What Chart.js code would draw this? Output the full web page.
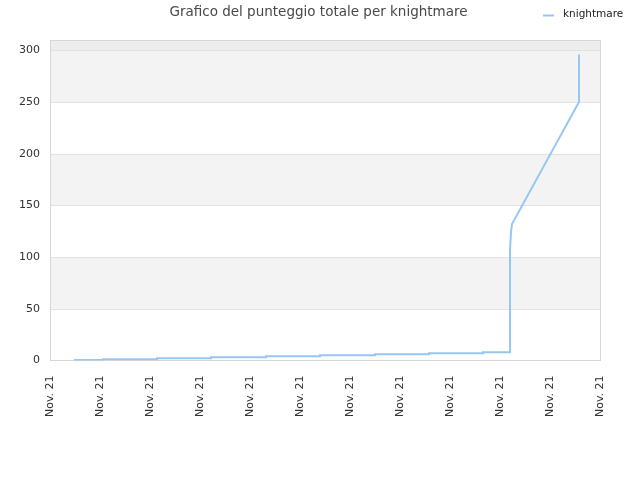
<!DOCTYPE html>
<html>
<head>
<meta charset="utf-8">
<script src="https://cdn.jsdelivr.net/npm/chart.js@4/dist/chart.umd.min.js"></script>
<style>
  html, body { margin: 0; padding: 0; background: #fff; }
  #wrap { width: 640px; height: 480px; }
</style>
</head>
<body>
<div id="wrap"><canvas id="myChart" width="640" height="480"></canvas></div>
<script>
// x positions are in "tick units": 0 = first Nov. 21 tick, 11 = last one
var xTickLabels = ['Nov. 21', 'Nov. 21', 'Nov. 21', 'Nov. 21', 'Nov. 21', 'Nov. 21',
                   'Nov. 21', 'Nov. 21', 'Nov. 21', 'Nov. 21', 'Nov. 21', 'Nov. 21'];
var yTickValues = [0, 50, 100, 150, 200, 250, 300];
var scoreX = [0.48, 1.06, 1.06, 2.14, 2.14, 3.22, 3.22, 4.32, 4.32, 5.40, 5.40, 6.50,
              6.50, 7.58, 7.58, 8.66, 8.66, 9.20, 9.20, 9.22, 9.24, 10.58, 10.58];
var scoreY = [0.5, 0.5, 1, 1, 2, 2, 3, 3, 4, 4, 5, 5,
              6, 6, 7, 7, 8, 8, 107, 124, 132, 250, 296];
var seriesName = 'knightmare';
var chartTitle = 'Grafico del punteggio totale per knightmare';

var lineColor = '#98c6f3';
var fontFamily = 'DejaVu Sans, sans-serif';

drawGraph();

function drawGraph() {
  var points = scoreX.map(function (x, i) { return { x: x, y: scoreY[i] }; });

  // alternating bands behind the plot + outer border
  var bandsPlugin = {
    id: 'bands',
    beforeDatasetsDraw: function (chart) {
      var ctx = chart.ctx, area = chart.chartArea, y = chart.scales.y;
      ctx.save();
      for (var i = 0; i < yTickValues.length; i++) {
        var lo = yTickValues[i];
        var hi = i + 1 < yTickValues.length ? yTickValues[i + 1] : y.max;
        var top = y.getPixelForValue(hi), bottom = y.getPixelForValue(lo);
        if (i === yTickValues.length - 1) ctx.fillStyle = '#ededed';
        else if (i % 2 === 1) ctx.fillStyle = '#f3f3f3';
        else continue;
        ctx.fillRect(area.left, top, area.right - area.left, bottom - top);
      }
      ctx.strokeStyle = '#e2e2e2';
      ctx.lineWidth = 1;
      yTickValues.forEach(function (v) {
        var py = Math.round(y.getPixelForValue(v)) + 0.5;
        ctx.beginPath();
        ctx.moveTo(area.left, py);
        ctx.lineTo(area.right, py);
        ctx.stroke();
      });
      ctx.strokeStyle = '#d6d6d6';
      ctx.strokeRect(Math.round(area.left) + 0.5, Math.round(area.top) + 0.5,
                     Math.round(area.right - area.left), Math.round(area.bottom - area.top));
      ctx.restore();
    }
  };

  // title and legend share the top row: title centred on the page, legend at the right
  var headerPlugin = {
    id: 'header',
    afterDraw: function (chart) {
      var ctx = chart.ctx;
      ctx.save();
      ctx.fillStyle = '#484848';
      ctx.font = '13.5px ' + fontFamily;
      ctx.textAlign = 'center';
      ctx.textBaseline = 'middle';
      ctx.fillText(chartTitle, 318.5, 12);

      ctx.strokeStyle = lineColor;
      ctx.lineWidth = 2;
      ctx.beginPath();
      ctx.moveTo(543, 15.5);
      ctx.lineTo(554, 15.5);
      ctx.stroke();
      ctx.fillStyle = '#222';
      ctx.font = '10.5px ' + fontFamily;
      ctx.textAlign = 'left';
      ctx.fillText(seriesName, 563, 14);
      ctx.restore();
    }
  };

  var ctx = document.getElementById('myChart').getContext('2d');
  new Chart(ctx, {
    type: 'line',
    data: {
      datasets: [{
        label: seriesName,
        data: points,
        borderColor: lineColor,
        borderWidth: 2,
        pointRadius: 0,
        fill: false,
        tension: 0
      }]
    },
    options: {
      responsive: false,
      animation: false,
      layout: { padding: { top: 40, right: 40, bottom: 48, left: 9 } },
      plugins: {
        legend: { display: false },
        tooltip: { enabled: false },
        title: { display: false, text: chartTitle }
      },
      scales: {
        x: {
          type: 'linear',
          min: 0,
          max: 11,
          grid: { display: false, drawTicks: false },
          border: { display: false },
          ticks: {
            stepSize: 1,
            autoSkip: false,
            maxRotation: 90,
            minRotation: 90,
            padding: 15,
            color: '#333',
            font: { family: fontFamily, size: 11 },
            callback: function (v) { return xTickLabels[v]; }
          }
        },
        y: {
          min: 0,
          max: 310,
          grid: { display: false, drawTicks: false },
          border: { display: false },
          afterBuildTicks: function (scale) {
            scale.ticks = yTickValues.map(function (v) { return { value: v }; });
          },
          ticks: {
            padding: 10,
            color: '#333',
            font: { family: fontFamily, size: 11 }
          }
        }
      }
    },
    plugins: [bandsPlugin, headerPlugin]
  });
}
</script>
</body>
</html>
